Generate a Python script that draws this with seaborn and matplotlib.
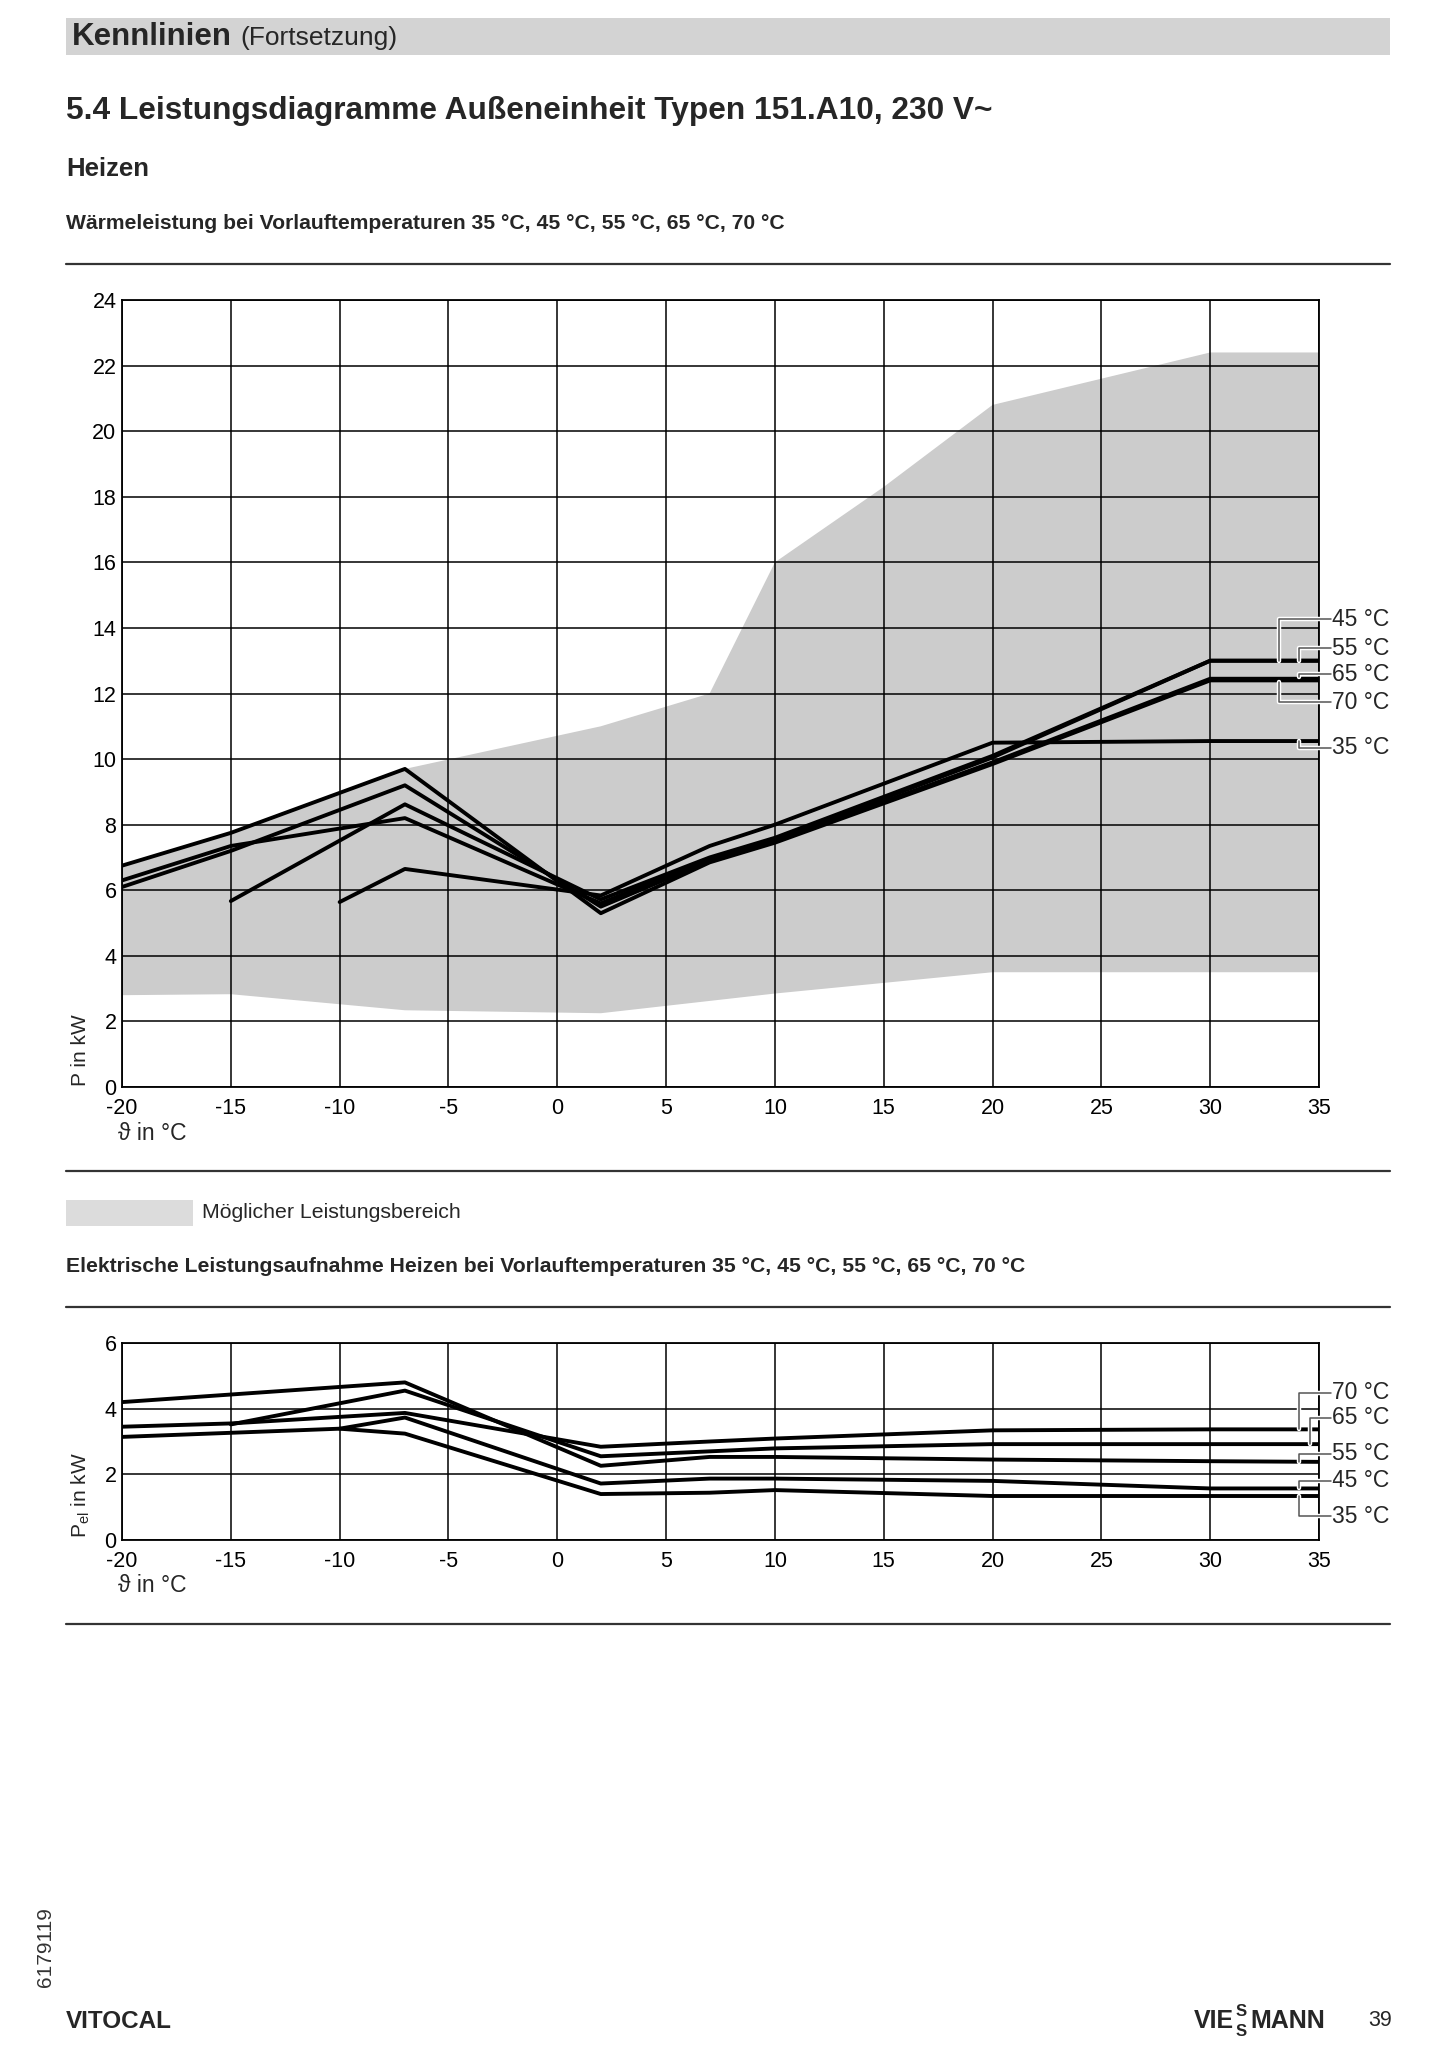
import numpy as np
import pandas as pd
import seaborn as sns
import matplotlib.pyplot as plt
import matplotlib.patheffects as pe
from matplotlib.patches import Rectangle
from matplotlib.lines import Line2D

# --- Wärmeleistung (kW) ---
heat_x_long = [-20, -15, -7, 2, 7, 10, 20, 30, 35]
heat_70 = [6.75, 7.75, 9.7, 5.3, 6.85, 7.45, 9.85, 12.4, 12.4]
heat_65 = [6.1, 7.2, 9.2, 5.5, 6.9, 7.5, 9.9, 12.45, 12.45]
heat_55 = [6.3, 7.35, 8.2, 5.6, 6.95, 7.55, 10.05, 13.0, 13.0]
heat_x_45 = [-15, -7, 2, 7, 10, 20, 30, 35]
heat_45 = [5.67, 8.62, 5.72, 7.0, 7.6, 10.1, 13.0, 13.0]
heat_x_35 = [-10, -7, 2, 7, 10, 20, 30, 35]
heat_35 = [5.64, 6.65, 5.84, 7.35, 8.0, 10.5, 10.55, 10.55]

# possible operating range (envelope)
range_up_x = [-20, -15, -7, 2, 7, 10, 15, 20, 30, 35]
range_up_y = [6.75, 7.75, 9.7, 11.0, 12.0, 16.0, 18.3, 20.8, 22.4, 22.4]
range_lo_x = [-20, -15, -7, 2, 10, 20, 35]
range_lo_y = [2.8, 2.83, 2.34, 2.25, 2.85, 3.5, 3.5]

# --- Elektrische Leistungsaufnahme (kW) ---
el_x_70 = [-20, -15, -7, 2, 7, 10, 20, 30, 35]
el_70 = [3.45, 3.55, 3.87, 2.84, 3.0, 3.09, 3.34, 3.37, 3.37]
el_x_65 = [-15, -7, 2, 7, 10, 20, 30, 35]
el_65 = [3.52, 4.55, 2.55, 2.7, 2.79, 2.92, 2.92, 2.92]
el_x_55 = [-20, -7, 2, 7, 10, 20, 30, 35]
el_55 = [4.2, 4.8, 2.26, 2.53, 2.53, 2.45, 2.4, 2.38]
el_x_45 = [-10, -7, 2, 7, 10, 20, 30, 35]
el_45 = [3.39, 3.73, 1.72, 1.87, 1.87, 1.8, 1.57, 1.57]
el_x_35 = [-20, -10, -7, 2, 7, 10, 20, 30, 35]
el_35 = [3.14, 3.39, 3.24, 1.4, 1.44, 1.52, 1.34, 1.34, 1.34]

x_ticks = list(range(-20, 36, 5))
heat_ticks = list(range(0, 25, 2))
el_ticks = [0, 2, 4, 6]

# label text y, leader x, line value at the right edge
heat_labels = [("45 °C", 14.27, 33.15, 13.0), ("55 °C", 13.38, 34.1, 13.0),
               ("65 °C", 12.59, 34.1, 12.5), ("70 °C", 11.74, 33.15, 12.35),
               ("35 °C", 10.34, 34.1, 10.55)]
el_labels = [("70 °C", 4.48, 34.1, 3.37), ("65 °C", 3.72, 34.6, 2.92),
             ("55 °C", 2.62, 34.1, 2.38), ("45 °C", 1.80, 34.1, 1.57),
             ("35 °C", 0.73, 34.1, 1.34)]

sns.set_theme(style="white")
plt.rcParams['font.family'] = ['Liberation Sans', 'DejaVu Sans']
plt.rcParams['mathtext.fontset'] = 'custom'
plt.rcParams['mathtext.rm'] = 'Liberation Sans'
plt.rcParams['axes.unicode_minus'] = False

W, H = 1440, 2056
fig = plt.figure(figsize=(W / 100, H / 100), dpi=100)


def fx(px):
    return px / W


def fy(py):
    return 1 - py / H


def hrule(py):
    fig.add_artist(Line2D([fx(66), fx(1390)], [fy(py), fy(py)], color="#333333", lw=1.6))


# header
fig.add_artist(Rectangle((fx(66), fy(55)), fx(1390) - fx(66), fy(18) - fy(55),
                         color="#d3d3d3", lw=0))
fig.text(fx(72), fy(37), "Kennlinien", fontsize=22.5, fontweight="bold", va="center")
fig.text(fx(240), fy(38), "(Fortsetzung)", fontsize=19, va="center")
fig.text(fx(66), fy(111), "5.4 Leistungsdiagramme Außeneinheit Typen 151.A10, 230 V~",
         fontsize=22.8, fontweight="bold", va="center")
fig.text(fx(66), fy(169), "Heizen", fontsize=18.5, fontweight="bold", va="center")
fig.text(fx(66), fy(223), "Wärmeleistung bei Vorlauftemperaturen 35 °C, 45 °C, 55 °C, 65 °C, 70 °C",
         fontsize=15.2, fontweight="bold", va="center")
hrule(264)


def style_axis(ax, yticks):
    ax.set_xlim(-20, 35)
    ax.set_ylim(yticks[0], yticks[-1])
    ax.set_xticks(x_ticks)
    ax.set_yticks(yticks)
    ax.grid(True, color="black", lw=1.1)
    ax.tick_params(length=0, labelsize=15.5, colors="black")
    ax.tick_params(axis="x", pad=8)
    ax.tick_params(axis="y", pad=4)
    for s in ax.spines.values():
        s.set_color("black")
        s.set_linewidth(1.3)
    ax.set_xlabel("")
    ax.set_ylabel("")


def leaders(ax, labels):
    halo = [pe.Stroke(linewidth=3.2, foreground="white"), pe.Normal()]
    for txt, ty, lx, ly in labels:
        ax.plot([35.55, lx, lx], [ty, ty, ly], color="#555555", lw=1.1,
                clip_on=False, zorder=5, path_effects=halo)
        ax.text(35.6, ty, txt, fontsize=16.5, va="center", ha="left", clip_on=False)


# --- top chart ---
ax1 = fig.add_axes([fx(122), fy(1087), fx(1319) - fx(122), fy(300) - fy(1087)])
poly_x = range_up_x + range_lo_x[::-1]
poly_y = range_up_y + range_lo_y[::-1]
ax1.fill(poly_x, poly_y, color="#cccccc", lw=0, zorder=0.2)
for xs, ys in [(heat_x_long, heat_70), (heat_x_long, heat_65), (heat_x_long, heat_55),
               (heat_x_45, heat_45), (heat_x_35, heat_35)]:
    sns.lineplot(x=xs, y=ys, ax=ax1, color="black", linewidth=2.8, zorder=3)
style_axis(ax1, heat_ticks)
leaders(ax1, heat_labels)
fig.text(fx(81), fy(1050), "P in kW", rotation=90, fontsize=15, ha="center", va="center")
fig.text(fx(118), fy(1133), "ϑ in °C", fontsize=16.5, ha="left", va="center")

hrule(1171)
fig.add_artist(Rectangle((fx(66), fy(1226)), fx(193) - fx(66), fy(1200) - fy(1226),
                         color="#dcdcdc", lw=0))
fig.text(fx(202), fy(1213), "Möglicher Leistungsbereich", fontsize=15.3, va="center")
fig.text(fx(66), fy(1266),
         "Elektrische Leistungsaufnahme Heizen bei Vorlauftemperaturen 35 °C, 45 °C, 55 °C, 65 °C, 70 °C",
         fontsize=15.2, fontweight="bold", va="center")
hrule(1307)

# --- bottom chart ---
ax2 = fig.add_axes([fx(122), fy(1540), fx(1319) - fx(122), fy(1343) - fy(1540)])
for xs, ys in [(el_x_70, el_70), (el_x_65, el_65), (el_x_55, el_55),
               (el_x_45, el_45), (el_x_35, el_35)]:
    sns.lineplot(x=xs, y=ys, ax=ax2, color="black", linewidth=2.8, zorder=3)
style_axis(ax2, el_ticks)
leaders(ax2, el_labels)
fig.text(fx(81), fy(1495), r"P$_{\mathrm{el}}$ in kW", rotation=90, fontsize=15,
         ha="center", va="center")
fig.text(fx(118), fy(1586), "ϑ in °C", fontsize=16.5, ha="left", va="center")
hrule(1624)

# footer
fig.text(fx(46), fy(1947), "6179119", rotation=90, fontsize=15, ha="center", va="center",
         color="#333333")
fig.text(fx(66), fy(2021), "VITOCAL", fontsize=17.5, fontweight="bold", va="center")
fig.text(fx(1234), fy(2021), "VIE", fontsize=18, fontweight="bold", va="center", ha="right")
fig.text(fx(1236), fy(2011), "S", fontsize=12, fontweight="bold", va="center")
fig.text(fx(1236), fy(2031), "S", fontsize=12, fontweight="bold", va="center")
fig.text(fx(1250), fy(2021), "MANN", fontsize=18, fontweight="bold", va="center")
fig.text(fx(1368), fy(2021), "39", fontsize=15.5, va="center")

fig.savefig("out.png", dpi=100)
